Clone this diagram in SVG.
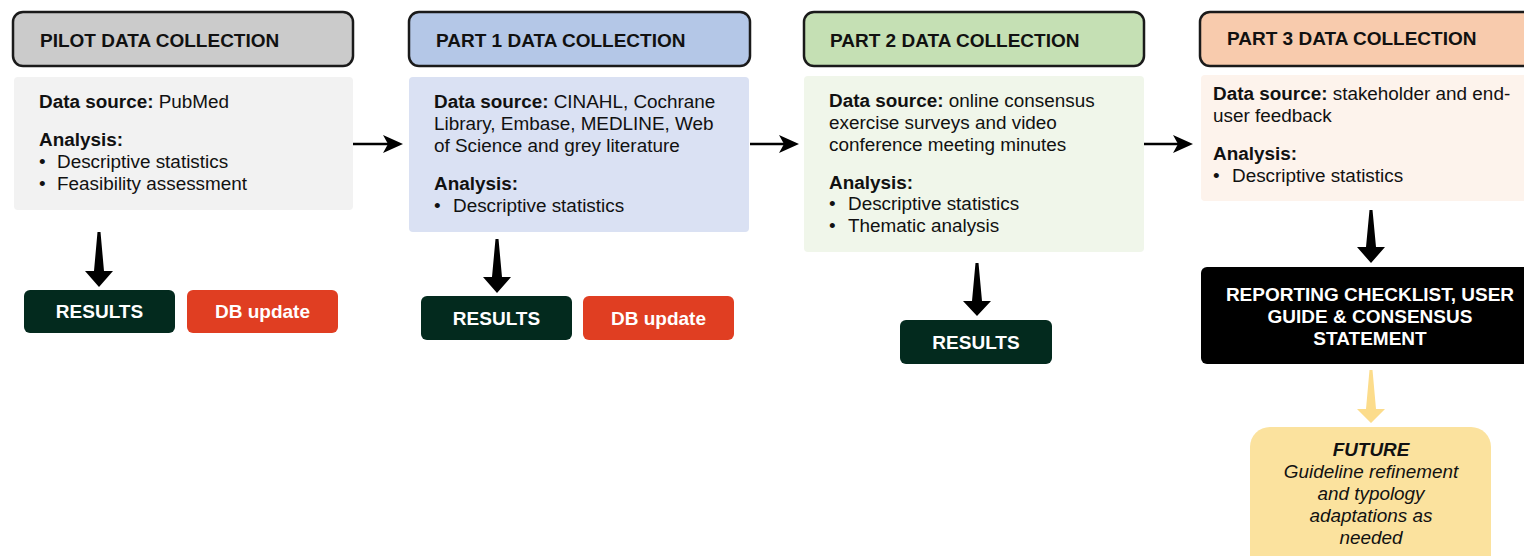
<svg xmlns="http://www.w3.org/2000/svg" width="1524" height="556" viewBox="0 0 1524 556">
<style>
text{font-family:"Liberation Sans",Arial,Helvetica,sans-serif;fill:#111;}
.hd{font-size:19px;font-weight:bold;}
.bd{font-size:18.9px;}
.b{font-weight:bold;}
.hdbox{stroke:#1a1a1a;stroke-width:2.5;}
.res{fill:#032a1e;}
.db{fill:#e03e22;}
.wt{fill:#fff;font-size:19px;font-weight:bold;text-anchor:middle;}
.conn{stroke:#000;stroke-width:2.5;fill:none;}
.ah{fill:#000;}
</style>
<rect width="1524" height="556" fill="#fff"/>

<g id="pilot">
<rect class="hdbox" x="13" y="12" width="340" height="54" rx="10" fill="#cbcbcb"/>
<text class="hd" x="40" y="47">PILOT DATA COLLECTION</text>
<rect x="14" y="77" width="339" height="133" rx="4" fill="#f2f2f2"/>
<text class="bd" x="39" y="108"><tspan class="b">Data source:</tspan> PubMed</text>
<text class="bd b" x="39" y="146">Analysis:</text>
<text class="bd" x="39" y="168">•</text><text class="bd" x="57" y="168">Descriptive statistics</text>
<text class="bd" x="39" y="190">•</text><text class="bd" x="57" y="190">Feasibility assessment</text>
</g>
<g id="pilot-results">
<rect class="res" x="24" y="290" width="151" height="43" rx="6"/>
<text class="wt" x="99.5" y="318">RESULTS</text>
</g>
<g id="pilot-db">
<rect class="db" x="187" y="290" width="151" height="43" rx="6"/>
<text class="wt" x="262.5" y="318">DB update</text>
</g>

<g id="part1">
<rect class="hdbox" x="409" y="12" width="341" height="54" rx="10" fill="#b4c7e7"/>
<text class="hd" x="436" y="47">PART 1 DATA COLLECTION</text>
<rect x="409" y="77" width="340" height="155" rx="4" fill="#dae1f3"/>
<text class="bd" x="434" y="108"><tspan class="b">Data source:</tspan> CINAHL, Cochrane</text>
<text class="bd" x="434" y="130">Library, Embase, MEDLINE, Web</text>
<text class="bd" x="434" y="152">of Science and grey literature</text>
<text class="bd b" x="434" y="190">Analysis:</text>
<text class="bd" x="434" y="212">•</text><text class="bd" x="453" y="212">Descriptive statistics</text>
</g>
<g id="part1-results">
<rect class="res" x="421" y="296" width="151" height="44" rx="6"/>
<text class="wt" x="496.5" y="325">RESULTS</text>
</g>
<g id="part1-db">
<rect class="db" x="583" y="296" width="151" height="44" rx="6"/>
<text class="wt" x="658.5" y="325">DB update</text>
</g>

<g id="part2">
<rect class="hdbox" x="804" y="12" width="340" height="54" rx="10" fill="#c5e0b4"/>
<text class="hd" x="830" y="47">PART 2 DATA COLLECTION</text>
<rect x="804" y="76" width="340" height="176" rx="4" fill="#f0f6ea"/>
<text class="bd" x="829" y="107"><tspan class="b">Data source:</tspan> online consensus</text>
<text class="bd" x="829" y="129">exercise surveys and video</text>
<text class="bd" x="829" y="151">conference meeting minutes</text>
<text class="bd b" x="829" y="189">Analysis:</text>
<text class="bd" x="829" y="210">•</text><text class="bd" x="848" y="210">Descriptive statistics</text>
<text class="bd" x="829" y="232">•</text><text class="bd" x="848" y="232">Thematic analysis</text>
</g>
<g id="part2-results">
<rect class="res" x="900" y="320" width="152" height="44" rx="6"/>
<text class="wt" x="976" y="349">RESULTS</text>
</g>

<g id="part3">
<rect class="hdbox" x="1200" y="12" width="345" height="54" rx="10" fill="#f8cbad"/>
<text class="hd" x="1227" y="45">PART 3 DATA COLLECTION</text>
<rect x="1201" y="75" width="340" height="126" rx="4" fill="#fdf3ec"/>
<text class="bd" x="1213" y="100"><tspan class="b">Data source:</tspan> stakeholder and end-</text>
<text class="bd" x="1213" y="122">user feedback</text>
<text class="bd b" x="1213" y="160">Analysis:</text>
<text class="bd" x="1213" y="182">•</text><text class="bd" x="1232" y="182">Descriptive statistics</text>
</g>
<g id="reporting">
<rect x="1201" y="267" width="340" height="97" rx="6" fill="#000"/>
<text class="wt" x="1370" y="301">REPORTING CHECKLIST, USER</text>
<text class="wt" x="1370" y="323">GUIDE &amp; CONSENSUS</text>
<text class="wt" x="1370" y="345">STATEMENT</text>
</g>
<g id="future">
<rect x="1250" y="427" width="241" height="150" rx="20" fill="#fbe29e"/>
<text class="bd" x="1371" y="456" text-anchor="middle" font-weight="bold" font-style="italic">FUTURE</text>
<text class="bd" x="1371" y="478" text-anchor="middle" font-style="italic">Guideline refinement</text>
<text class="bd" x="1371" y="500" text-anchor="middle" font-style="italic">and typology</text>
<text class="bd" x="1371" y="522" text-anchor="middle" font-style="italic">adaptations as</text>
<text class="bd" x="1371" y="544" text-anchor="middle" font-style="italic">needed</text>
</g>

<g id="connectors">
<line class="conn" x1="353" y1="144" x2="390" y2="144"/>
<path class="ah" d="M383,135 L403,144 L383,153 L388,144 Z"/>
<line class="conn" x1="750" y1="144" x2="786" y2="144"/>
<path class="ah" d="M779,135 L799,144 L779,153 L784,144 Z"/>
<line class="conn" x1="1144" y1="144" x2="1180" y2="144"/>
<path class="ah" d="M1173,135 L1193,144 L1173,153 L1178,144 Z"/>
<polygon class="ah" points="97.5,232 100.5,232 104,271 113,271 99,287 85,271 94,271"/>
<polygon class="ah" points="495.5,239 498.5,239 502,277 511,277 497,293 483,277 492,277"/>
<polygon class="ah" points="975.5,263 978.5,263 982,301 991,301 977,316 963,301 972,301"/>
<polygon class="ah" points="1369.5,210 1372.5,210 1376,247 1385,247 1371,263 1357,247 1366,247"/>
<polygon fill="#fcdc8b" points="1369.5,370 1372.5,370 1376,409 1385,409 1371,423 1357,409 1366,409"/>
</g>
</svg>
